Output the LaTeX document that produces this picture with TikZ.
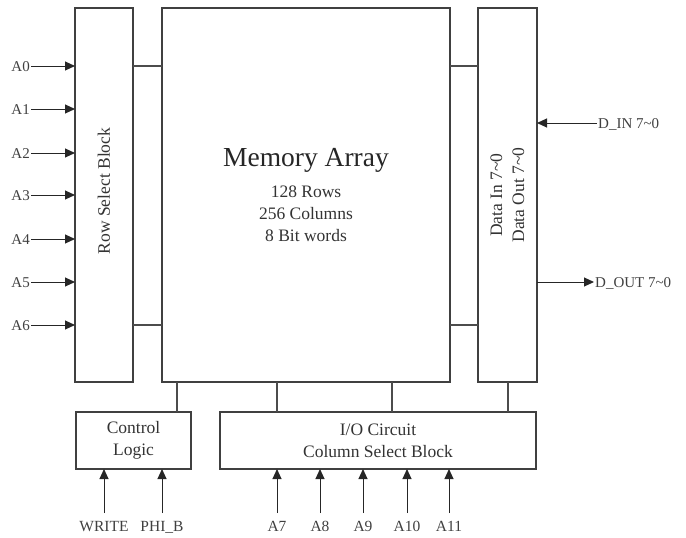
\documentclass[tikz,border=0pt]{standalone}
\usepackage{fontspec}
\setmainfont{Liberation Serif}
\usetikzlibrary{arrows.meta}
\begin{document}
\begin{tikzpicture}[x=1pt,y=-1pt,
 box/.style={draw=black!75, line width=1.1pt, inner sep=0pt, outer sep=0pt},
 wire/.style={draw=black!70, line width=1.1pt},
 sig/.style={draw=black!85, line width=1pt, -{Triangle[length=10pt,width=9pt]}},
 lbl/.style={text=black!75, font=\fontsize{15}{18}\selectfont, inner sep=1pt, text height=10pt, text depth=0pt},
 lblb/.style={text=black!75, font=\fontsize{15.5}{18}\selectfont, inner sep=0pt, text height=18pt, text depth=2pt, anchor=north},
 btxt/.style={text=black!80, font=\fontsize{17.5}{22}\selectfont, align=center}]
\useasboundingbox (0,0) rectangle (686,538);
% boxes
\node[box, minimum width=58pt, minimum height=374pt] (rsb) at (104,195) {};
\node[box, minimum width=288pt, minimum height=374pt] (mem) at (306,195) {};
\node[box, minimum width=59pt, minimum height=374pt] (dat) at (507.5,195) {};
\node[box, minimum width=115pt, minimum height=57pt] (ctl) at (133.5,440.5) {};
\node[box, minimum width=316pt, minimum height=57pt] (io) at (378,440.5) {};
% texts in boxes
\node[btxt, rotate=90] (rsbt) at (rsb.center |- 0,191) {Row Select Block};
\node[text=black!85, font=\fontsize{27.5}{30}\selectfont] (memt) at (306,160) {Memory Array};
\node[btxt] (mems) at (306,214) {128 Rows\\256 Columns\\8 Bit words};
\node[btxt, rotate=90] (datt) at (dat.center |- 0,195) {Data In 7\textasciitilde0\\Data Out 7\textasciitilde0};
\node[btxt] (ctlt) at (ctl.center) {Control\\Logic};
\node[btxt] (iot) at (io.center) {I/O Circuit\\Column Select Block};
% row coordinates
\coordinate (r0) at (0,66);
\coordinate (r6) at (0,325);
\coordinate (c1) at (177,0);
\coordinate (c2) at (277,0);
\coordinate (c3) at (392,0);
\coordinate (c4) at (508,0);
% internal wires
\draw[wire] (rsb.east |- r0) -- (mem.west |- r0);
\draw[wire] (rsb.east |- r6) -- (mem.west |- r6);
\draw[wire] (mem.east |- r0) -- (dat.west |- r0);
\draw[wire] (mem.east |- r6) -- (dat.west |- r6);
\draw[wire] (mem.south -| c1) -- (ctl.north -| c1);
\draw[wire] (mem.south -| c2) -- (io.north -| c2);
\draw[wire] (mem.south -| c3) -- (io.north -| c3);
\draw[wire] (dat.south -| c4) -- (io.north -| c4);
% address inputs left
\foreach \n/\y in {0/66,1/109,2/153,3/195,4/239,5/282,6/325}{
  \node[lbl, anchor=east] (a\n) at (31,\y) {A\n};
  \draw[sig] (a\n.east) -- (rsb.west |- a\n);
}
% data in/out
\node[lbl, anchor=west] (din) at (597,123) {D\_IN 7\textasciitilde0};
\draw[sig] (din.west) -- (dat.east |- din);
\node[lbl, anchor=west] (dout) at (594,282) {D\_OUT 7\textasciitilde0};
\draw[sig] (dat.east |- dout) -- (dout.west);
% bottom inputs
\node[lblb] (wr) at (104,513) {WRITE};
\draw[sig] (wr.north) -- (ctl.south -| wr);
\node[lblb] (phi) at (162,513) {PHI\_B};
\draw[sig] (phi.north) -- (ctl.south -| phi);
\foreach \n/\x in {7/277,8/320,9/363,10/407,11/449}{
  \node[lblb] (b\n) at (\x,513) {A\n};
  \draw[sig] (b\n.north) -- (io.south -| b\n);
}
\end{tikzpicture}
\end{document}
